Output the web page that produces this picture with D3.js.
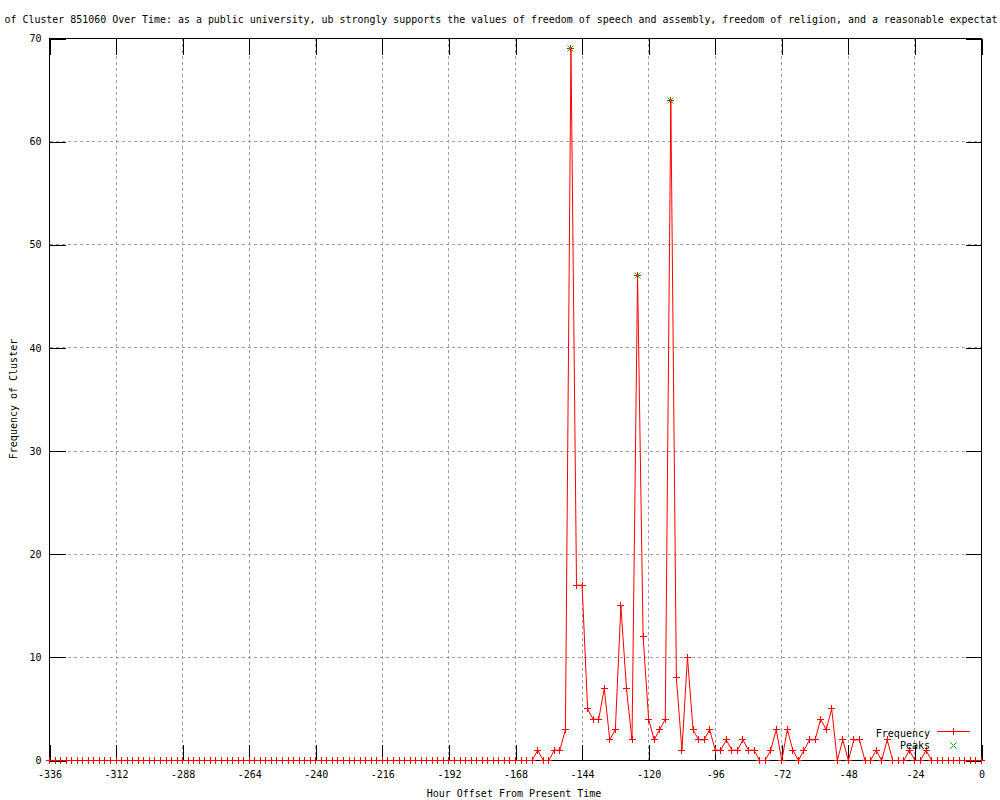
<!DOCTYPE html>
<html>
<head>
<meta charset="utf-8">
<script src="https://cdn.jsdelivr.net/npm/d3@7.9.0/dist/d3.min.js"></script>
<style>
  body { margin: 0; background: #fff; }
  svg { display: block; }
  text { font-family: "DejaVu Sans Mono", monospace; font-size: 10px; fill: #000; }
</style>
</head>
<body>
<svg id="chart" width="1000" height="800"></svg>
<script>
// Hour offsets, one point every 2 hours from -336 to 0
const hours = d3.range(-336, 1, 2);

// Frequency of the cluster at each hour offset
const frequency = [
  0, 0, 0, 0, 0, 0, 0, 0, 0, 0, 0, 0,   // -336 .. -314
  0, 0, 0, 0, 0, 0, 0, 0, 0, 0, 0, 0,   // -312 .. -290
  0, 0, 0, 0, 0, 0, 0, 0, 0, 0, 0, 0,   // -288 .. -266
  0, 0, 0, 0, 0, 0, 0, 0, 0, 0, 0, 0,   // -264 .. -242
  0, 0, 0, 0, 0, 0, 0, 0, 0, 0, 0, 0,   // -240 .. -218
  0, 0, 0, 0, 0, 0, 0, 0, 0, 0, 0, 0,   // -216 .. -194
  0, 0, 0, 0, 0, 0, 0, 0, 0, 0, 0, 0,   // -192 .. -170
  0, 0, 0, 0, 1, 0, 0, 1, 1, 3, 69, 17, // -168 .. -146
  17, 5, 4, 4, 7, 2, 3, 15, 7, 2, 47, 12, // -144 .. -122
  4, 2, 3, 4, 64, 8, 1, 10, 3, 2, 2, 3, // -120 .. -98
  1, 1, 2, 1, 1, 2, 1, 1, 0, 0, 1, 3,   // -96 .. -74
  0, 3, 1, 0, 1, 2, 2, 4, 3, 5, 0, 2,   // -72 .. -50
  0, 2, 2, 0, 0, 1, 0, 2, 0, 0, 0, 1,   // -48 .. -26
  0, 0, 1, 0, 0, 0, 0, 0, 0, 0, 0, 0,   // -24 .. -2
  0                                     // 0
];

// Detected peaks
const peakHours = [-148, -124, -112];
const peakValues = [69, 47, 64];

const xTicks = [-336, -312, -288, -264, -240, -216, -192, -168, -144, -120, -96, -72, -48, -24, 0];
const yTicks = [0, 10, 20, 30, 40, 50, 60, 70];

const title = 'of Cluster 851060 Over Time: as a public university, ub strongly supports the values of freedom of speech and assembly, freedom of religion, and a reasonable expectat';

const plotLeft = 49.5, plotRight = 981.5, plotTop = 38.5, plotBottom = 760.5;

const x = d3.scaleLinear().domain([-336, 0]).range([plotLeft, plotRight]);
const y = d3.scaleLinear().domain([0, 70]).range([plotBottom, plotTop]);

const svg = d3.select('#chart');

svg.append('rect').attr('width', 1000).attr('height', 800).attr('fill', '#fff');

const snap = v => Math.round(v - 0.5) + 0.5;

// grid
const grid = svg.append('g')
  .attr('stroke', '#a0a0a0')
  .attr('stroke-dasharray', '3,3')
  .attr('shape-rendering', 'crispEdges');

grid.selectAll('.vg')
  .data(xTicks.slice(1, -1))
  .enter()
  .append('line')
  .attr('x1', d => snap(x(d)))
  .attr('x2', d => snap(x(d)))
  .attr('y1', plotBottom)
  .attr('y2', plotTop);

grid.selectAll('.hg')
  .data(yTicks.slice(1, -1))
  .enter()
  .append('line')
  .attr('y1', d => snap(y(d)))
  .attr('y2', d => snap(y(d)))
  .attr('x1', plotLeft)
  .attr('x2', plotRight);

// axes, ticks pointing inward, mirrored on top and right
function styleAxis(g, labels) {
  g.select('.domain').remove();
  g.selectAll('line').attr('stroke', '#000').attr('shape-rendering', 'crispEdges');
  g.selectAll('text')
    .style('font-family', '"DejaVu Sans Mono", monospace')
    .style('font-size', '10px')
    .attr('fill', '#000');
  if (!labels) g.selectAll('text').remove();
}

const fmt = d => String(d);

svg.append('g')
  .attr('transform', `translate(0,${plotBottom})`)
  .call(d3.axisBottom(x).tickValues(xTicks).tickSize(-16).tickPadding(10).tickFormat(fmt))
  .call(g => styleAxis(g, true));

svg.append('g')
  .attr('transform', `translate(0,${plotTop})`)
  .call(d3.axisTop(x).tickValues(xTicks).tickSize(-16))
  .call(g => styleAxis(g, false));

svg.append('g')
  .attr('transform', `translate(${plotLeft},0)`)
  .call(d3.axisLeft(y).tickValues(yTicks).tickSize(-16).tickPadding(8).tickFormat(fmt))
  .call(g => styleAxis(g, true));

svg.append('g')
  .attr('transform', `translate(${plotRight},0)`)
  .call(d3.axisRight(y).tickValues(yTicks).tickSize(-16))
  .call(g => styleAxis(g, false));

// border
svg.append('rect')
  .attr('x', plotLeft).attr('y', plotTop)
  .attr('width', plotRight - plotLeft).attr('height', plotBottom - plotTop)
  .attr('fill', 'none').attr('stroke', '#000')
  .attr('shape-rendering', 'crispEdges');

// frequency line
const points = hours.map((h, i) => ({ h: h, v: frequency[i] }));

const line = d3.line()
  .x(d => x(d.h))
  .y(d => y(d.v));

svg.append('path')
  .datum(points)
  .attr('d', line)
  .attr('fill', 'none')
  .style('stroke', '#ff0000')
  .attr('stroke-width', 1);

// "+" and "x" marker shapes
const plus = (cx, cy, r) => `M${cx - r},${cy}H${cx + r}M${cx},${cy - r}V${cy + r}`;
const cross = (cx, cy, r) => `M${cx - r},${cy - r}L${cx + r},${cy + r}M${cx - r},${cy + r}L${cx + r},${cy - r}`;

svg.append('g')
  .selectAll('path')
  .data(points)
  .enter()
  .append('path')
  .attr('d', d => plus(snap(x(d.h)), snap(y(d.v)), 3.5))
  .style('stroke', '#ff0000')
  .style('fill', 'none')
  .attr('shape-rendering', 'crispEdges');

// peaks
svg.append('g')
  .selectAll('path')
  .data(peakHours)
  .enter()
  .append('path')
  .attr('d', (d, i) => cross(snap(x(d)), snap(y(peakValues[i])), 3))
  .style('stroke', '#00c000')
  .style('fill', 'none');

// legend
const legend = svg.append('g');
legend.append('text').attr('x', 930).attr('y', 737).attr('text-anchor', 'end').text('Frequency');
legend.append('path')
  .attr('d', 'M937,731.5H970' + plus(953.5, 731.5, 3.5))
  .style('stroke', '#ff0000').style('fill', 'none')
  .attr('shape-rendering', 'crispEdges');
legend.append('text').attr('x', 930).attr('y', 749).attr('text-anchor', 'end').text('Peaks');
legend.append('path').attr('d', cross(953.5, 745.5, 3))
  .style('stroke', '#00c000').style('fill', 'none');

// title and axis labels
svg.append('text')
  .attr('x', 4.5).attr('y', 23)
  .attr('textLength', 993)
  .attr('lengthAdjust', 'spacingAndGlyphs')
  .text(title);

svg.append('text')
  .attr('x', 514).attr('y', 797)
  .attr('text-anchor', 'middle')
  .text('Hour Offset From Present Time');

svg.append('text')
  .attr('transform', 'translate(17,399) rotate(-90)')
  .attr('text-anchor', 'middle')
  .text('Frequency of Cluster');
</script>
</body>
</html>
